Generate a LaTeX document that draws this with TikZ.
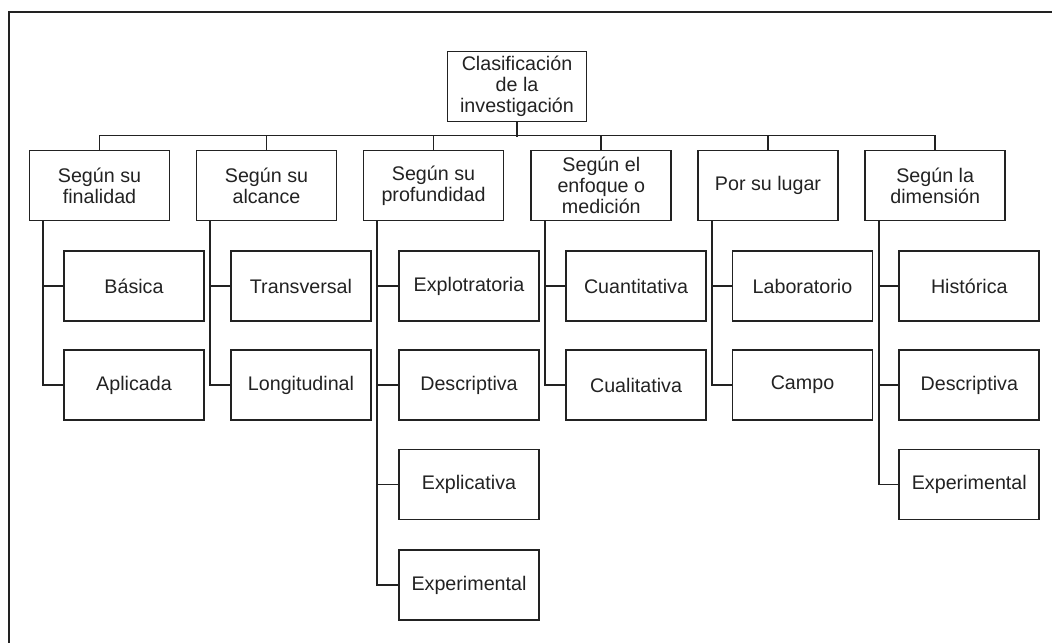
\documentclass[tikz,border=0pt]{standalone}
\usepackage{fontspec}
\setmainfont{Liberation Sans}
\usepackage{tikz}
\usetikzlibrary{positioning, calc}
\definecolor{inkdark}{HTML}{222222}

\tikzset{
  catbox/.style={draw=inkdark, line width=1.3pt, minimum width=3.5cm, minimum height=1.75cm,
    align=center, inner sep=2pt, text=inkdark, font=\fontsize{14}{15}\selectfont},
  leafbox/.style={catbox},
  link/.style={draw=inkdark, line width=1.3pt},
}

\begin{document}
\begin{tikzpicture}[x=0.025cm, y=-0.025cm]
  \useasboundingbox (0,0) rectangle (1052,643);

  % Outer frame (cut by the page on the right and at the bottom)
  \draw[inkdark, line width=1.3pt] (1070,12) -- (9,12) -- (9,660);

  % Root
  \node[catbox, minimum width=3.475cm] (root) at (517,86.5) {Clasificación\\de la\\investigación};

  % First level
  \node[catbox] (fin) at (99.5,185.5) {Según su\\finalidad};
  \node[catbox] (alc) at (266.5,185.5) {Según su\\alcance};
  \node[catbox] (pro) at (433.5,185.5) {Según su\\profundidad};
  \node[catbox] (enf) at (601.3,185.5) {Según el\\enfoque o\\medición};
  \node[catbox] (lug) at (768,185.5) {Por su lugar};
  \node[catbox] (dim) at (935.2,185.5) {Según la\\dimensión};

  % Second level
  \node[leafbox] (bas) at (134,286) {Básica};
  \node[leafbox] (apl) at (134,385) {Aplicada};
  \node[leafbox] (tra) at (301,286) {Transversal};
  \node[leafbox] (lon) at (301,385) {Longitudinal};
  \node[leafbox] (exo) at (469,286) {Explotratoria};
  \node[leafbox] (dsc) at (469,385) {Descriptiva};
  \node[leafbox] (exc) at (469,484.5) {Explicativa};
  \node[leafbox] (exm) at (469,585) {Experimental};
  \node[leafbox] (cun) at (636,286) {Cuantitativa};
  \node[leafbox] (cul) at (636,385) {Cualitativa};
  \node[leafbox] (lab) at (802.5,286) {Laboratorio};
  \node[leafbox] (cam) at (802.5,385) {Campo};
  \node[leafbox] (his) at (969.3,286) {Histórica};
  \node[leafbox] (dsd) at (969.3,385) {Descriptiva};
  \node[leafbox] (exd) at (969.3,484.5) {Experimental};

  % Root stem and bus
  \draw[link, line width=2.1pt] (root.south) -- ++(0,14.3);
  \draw[link] (fin.north) -- ++(0,-14) -| (dim.north);
  \foreach \n in {alc,pro,enf,lug}
    \draw[link] (\n.north) -- ++(0,-14);

  % Branches down to the second level
  \foreach \p/\c in {fin/bas, fin/apl, alc/tra, alc/lon, pro/exo, pro/dsc, pro/exc, pro/exm,
                     enf/cun, enf/cul, lug/lab, lug/cam, dim/his, dim/dsd, dim/exd}
    \draw[link] ([xshift=-1.41cm]\p.south) |- (\c.west);
\end{tikzpicture}
\end{document}
